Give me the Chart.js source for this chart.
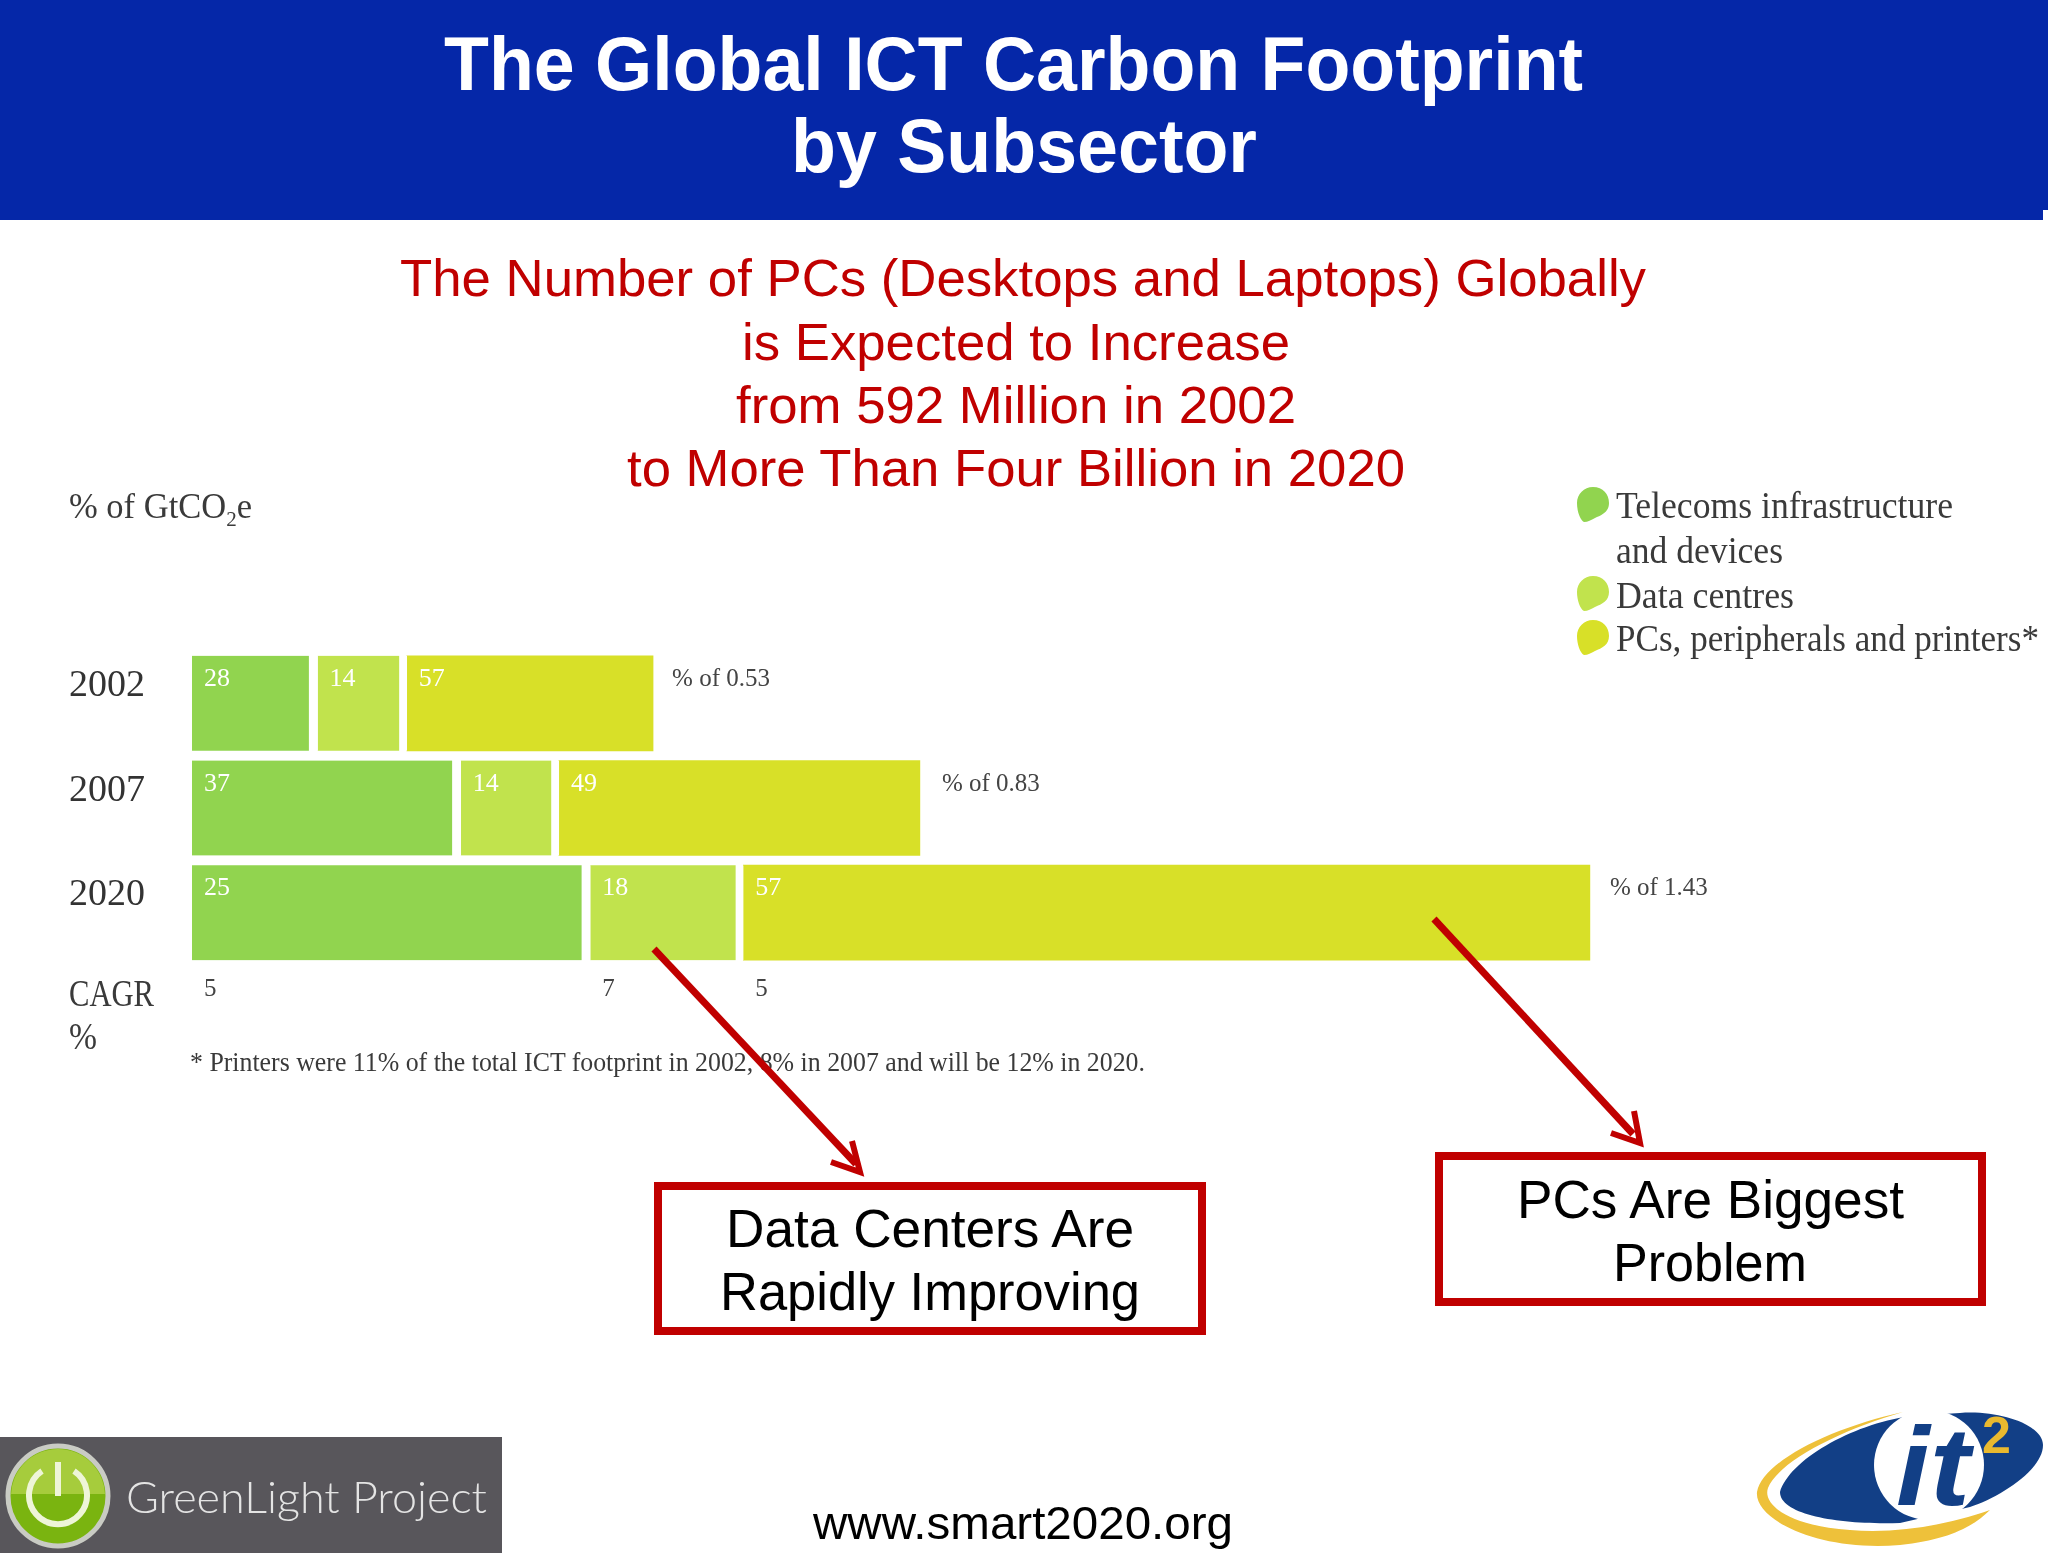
<!DOCTYPE html>
<html>
<head>
<meta charset="utf-8">
<title>The Global ICT Carbon Footprint by Subsector</title>
<script src="https://cdn.jsdelivr.net/npm/chart.js@4"></script>
<style>
    html, body { margin: 0; padding: 0; background: #fff; }
    #page { position: relative; width: 2048px; height: 1553px; overflow: hidden; }
    #chart, #overlay { position: absolute; left: 0; top: 0; }
    .sans { font-family: "Liberation Sans", sans-serif; }
    .serif { font-family: "Liberation Serif", serif; fill: #3a3a3a; }
    .red { fill: #c00000; font-size: 52px; }
    .callout { fill: #000; font-size: 54px; }
</style>
</head>
<body>
<div id="page">
    <canvas id="chart" width="2048" height="1553"></canvas>
    <svg id="overlay" width="2048" height="1553" viewBox="0 0 2048 1553">
        <defs>
            <clipPath id="btnTop"><rect x="0" y="1437" width="120" height="57"/></clipPath>
            <path id="leaf" d="M16 0C26 0 32 7 32 16C32 25 25 28 18 31C14 33 11 35 7 35C3 33 0 24 0 16C0 7 7 0 16 0Z"/>
        </defs>

        <!-- header band, with the small step at its lower right corner -->
        <rect x="0" y="0" width="2048" height="220" fill="#0527a8"/>
        <rect x="2043" y="210" width="5" height="10" fill="#fff"/>
        <text class="sans" x="444" y="90" font-size="76" font-weight="700" fill="#fff" textLength="1139" lengthAdjust="spacingAndGlyphs">The Global ICT Carbon Footprint</text>
        <text class="sans" x="791" y="172" font-size="76" font-weight="700" fill="#fff" textLength="466" lengthAdjust="spacingAndGlyphs">by Subsector</text>

        <!-- subtitle -->
        <text class="sans red" x="400" y="296" textLength="1246" lengthAdjust="spacingAndGlyphs">The Number of PCs (Desktops and Laptops) Globally</text>
        <text class="sans red" x="742" y="360" textLength="548" lengthAdjust="spacingAndGlyphs">is Expected to Increase</text>
        <text class="sans red" x="736" y="423" textLength="560" lengthAdjust="spacingAndGlyphs">from 592 Million in 2002</text>
        <text class="sans red" x="627" y="486" textLength="778" lengthAdjust="spacingAndGlyphs">to More Than Four Billion in 2020</text>

        <!-- axis caption and CAGR row heading -->
        <text class="serif" x="69" y="518" font-size="36" textLength="183" lengthAdjust="spacingAndGlyphs">% of GtCO<tspan font-size="22" dy="8">2</tspan><tspan dy="-8">e</tspan></text>
        <text class="serif" x="69" y="1006" font-size="37" textLength="85" lengthAdjust="spacingAndGlyphs">CAGR</text>
        <text class="serif" x="69" y="1049" font-size="37" textLength="28" lengthAdjust="spacingAndGlyphs">%</text>
        <text class="serif" x="190" y="1071" font-size="27" textLength="955" lengthAdjust="spacingAndGlyphs">* Printers were 11% of the total ICT footprint in 2002, 8% in 2007 and will be 12% in 2020.</text>

        <!-- legend -->
        <use href="#leaf" x="1577" y="487" fill="#91d44f"/>
        <use href="#leaf" x="1577" y="576" fill="#c1e34d"/>
        <use href="#leaf" x="1577" y="620" fill="#d8e028"/>
        <text class="serif" x="1616" y="518" font-size="37" textLength="337" lengthAdjust="spacingAndGlyphs">Telecoms infrastructure</text>
        <text class="serif" x="1616" y="563" font-size="37" textLength="167" lengthAdjust="spacingAndGlyphs">and devices</text>
        <text class="serif" x="1616" y="608" font-size="37" textLength="178" lengthAdjust="spacingAndGlyphs">Data centres</text>
        <text class="serif" x="1616" y="651" font-size="37" textLength="423" lengthAdjust="spacingAndGlyphs">PCs, peripherals and printers*</text>

        <!-- arrows -->
        <g fill="none" stroke="#c00000" stroke-width="7">
            <line x1="654" y1="949" x2="856" y2="1164"/>
            <line x1="1434" y1="919" x2="1633" y2="1134"/>
        </g>
        <g fill="none" stroke="#c00000" stroke-width="6">
            <polyline points="852,1141 860,1172 831,1162"/>
            <polyline points="1634,1111 1640,1143 1611,1133"/>
        </g>

        <!-- callouts -->
        <rect x="658" y="1186" width="544" height="145" fill="#fff" stroke="#c00000" stroke-width="8"/>
        <rect x="1439" y="1156" width="543" height="146" fill="#fff" stroke="#c00000" stroke-width="8"/>
        <text class="sans callout" x="726" y="1247" textLength="408" lengthAdjust="spacingAndGlyphs">Data Centers Are</text>
        <text class="sans callout" x="720" y="1310" textLength="420" lengthAdjust="spacingAndGlyphs">Rapidly Improving</text>
        <text class="sans callout" x="1517" y="1218" textLength="387" lengthAdjust="spacingAndGlyphs">PCs Are Biggest</text>
        <text class="sans callout" x="1613" y="1281" textLength="194" lengthAdjust="spacingAndGlyphs">Problem</text>

        <!-- footer -->
        <rect x="0" y="1437" width="502" height="116" fill="#58565b"/>
        <circle cx="58" cy="1496" r="50" fill="#7ab410" stroke="#c9cbc4" stroke-width="5"/>
        <circle cx="58" cy="1496" r="47" fill="#a6cc3c" clip-path="url(#btnTop)"/>
        <path d="M42 1471A29 29 0 1 0 74 1471" fill="none" stroke="#eef5d8" stroke-width="6"/>
        <line x1="58" y1="1462" x2="58" y2="1496" stroke="#eef5d8" stroke-width="6"/>
        <text x="126" y="1513" font-family="Lato" font-weight="300" font-size="44" fill="#e4e4e4" textLength="361" lengthAdjust="spacingAndGlyphs">GreenLight Project</text>
        <text class="sans" x="813" y="1539" font-size="46" fill="#000" textLength="420" lengthAdjust="spacingAndGlyphs">www.smart2020.org</text>

        <!-- it2 logo -->
        <path d="M1903 1412C1830 1428 1762 1462 1757 1492C1754 1520 1820 1552 1900 1545C1950 1540 1975 1525 1990 1510C1950 1524 1900 1534 1850 1530C1790 1526 1762 1505 1768 1488C1778 1462 1840 1430 1903 1412Z" fill="#eec13a"/>
        <path d="M1780 1492C1790 1460 1850 1425 1910 1416L1960 1413C2000 1410 2043 1425 2043 1445C2043 1470 2000 1497 1970 1507L1900 1523C1840 1525 1780 1515 1780 1492Z" fill="#123f86"/>
        <circle cx="1929" cy="1465" r="55" fill="#fff"/>
        <text x="1896" y="1505" font-family="Liberation Sans" font-style="italic" font-weight="700" font-size="112" fill="#123f86" textLength="74" lengthAdjust="spacingAndGlyphs">it</text>
        <text x="1982" y="1453" font-family="Liberation Sans" font-weight="700" font-size="52" fill="#e9b92f">2</text>
    </svg>
</div>

<script>
// bar lengths as drawn in the picture, in GtCO2e along the hidden axis
const years = ['2002', '2007', '2020'];
const seriesNames = ['Telecoms infrastructure and devices', 'Data centres', 'PCs, peripherals and printers*'];
const telecoms = [0.128, 0.274, 0.406];
const dataCentres = [0.091, 0.100, 0.156];
const pcs = [0.251, 0.368, 0.863];

// numbers printed on the bars
const telecomsShare = [28, 37, 25];
const dataCentresShare = [14, 14, 18];
const pcsShare = [57, 49, 57];
const totals = ['% of 0.53', '% of 0.83', '% of 1.43'];
const cagr = [5, 7, 5];

const colours = ['#91d44f', '#c1e34d', '#d8e028'];
const AXIS_MAX = 1.892;
const TOTAL_GAPS = [19, 22, 20];

// printed numbers sit at the top left of each bar, CAGR under the last row
const barText = {
    id: 'barText',
    afterDatasetsDraw(chart) {
        const ctx = chart.ctx;
        const shares = [telecomsShare, dataCentresShare, pcsShare];
        ctx.save();
        ctx.textBaseline = 'middle';
        shares.forEach((list, s) => {
            const bars = chart.getDatasetMeta(s).data;
            list.forEach((val, i) => {
                ctx.font = '26px "Liberation Serif"';
                ctx.fillStyle = '#ffffff';
                ctx.fillText(val, bars[i].base + 12, bars[i].y - 24);
            });
            ctx.font = '25px "Liberation Serif"';
            ctx.fillStyle = '#444444';
            ctx.fillText(cagr[s], bars[2].base + 12, 989);
        });
        const last = chart.getDatasetMeta(2).data;
        totals.forEach((label, i) => {
            ctx.font = '25px "Liberation Serif"';
            ctx.fillStyle = '#444444';
            ctx.fillText(label, last[i].x + TOTAL_GAPS[i], last[i].y - 24);
        });
        ctx.restore();
    }
};

const borders = right => ({ top: 0, bottom: 0, left: 0, right });

new Chart(document.getElementById('chart').getContext('2d'), {
    type: 'bar',
    data: {
        labels: years,
        datasets: [
            { label: seriesNames[0], data: telecoms, backgroundColor: colours[0], borderColor: '#fff', borderWidth: borders(9), borderSkipped: false },
            { label: seriesNames[1], data: dataCentres, backgroundColor: colours[1], borderColor: '#fff', borderWidth: borders(8), borderSkipped: false },
            { label: seriesNames[2], data: pcs, backgroundColor: colours[2], borderWidth: 0 }
        ]
    },
    options: {
        indexAxis: 'y',
        responsive: false,
        animation: false,
        devicePixelRatio: 1,
        barThickness: 95,
        layout: { padding: { left: 69, top: 651, bottom: 588, right: 0 } },
        plugins: { legend: { display: false }, tooltip: { enabled: false } },
        scales: {
            x: { stacked: true, display: false, min: 0, max: AXIS_MAX },
            y: {
                stacked: true,
                afterFit: scale => { scale.width = 123; },
                grid: { display: false, drawTicks: false },
                border: { display: false },
                ticks: {
                    crossAlign: 'far',
                    color: '#333333',
                    font: { family: '"Liberation Serif"', size: 38, lineHeight: 0.92 },
                    // empty second line lifts the year above the bar's centre
                    callback: value => [years[value], '']
                }
            }
        }
    },
    plugins: [barText]
});
</script>
</body>
</html>
